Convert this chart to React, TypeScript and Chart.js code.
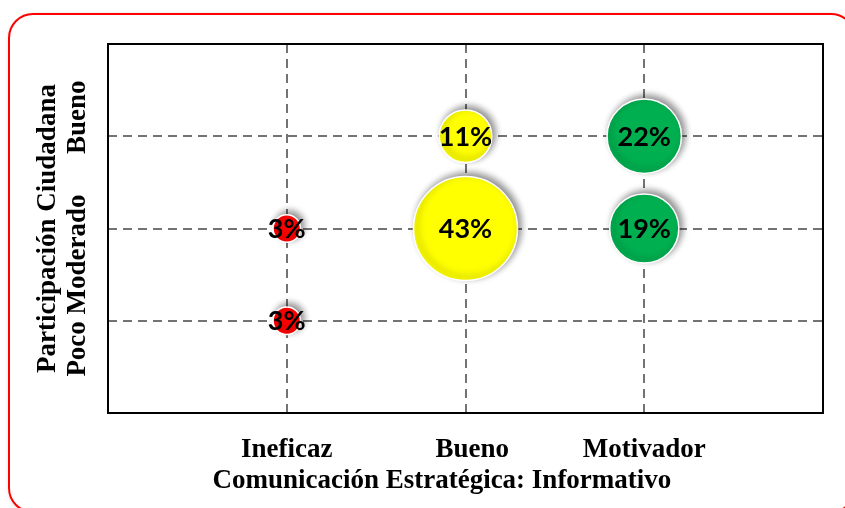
import React, { useEffect, useRef } from "react";
import { Chart, registerables } from "chart.js";

Chart.register(...registerables);

// ---- data ----
const xCategories = ["Ineficaz", "  Bueno", "Motivador"];
const xTitle = "Comunicación Estratégica: Informativo       ";
const yTitleLines = ["Participación Ciudadana", "Poco Moderado      Bueno"];

// y level: 1 = Poco, 2 = Moderado, 3 = Bueno
const ineficazLevels = [2, 1];
const ineficazPct = [3, 3];
const buenoLevels = [3, 2];
const buenoPct = [11, 43];
const motivadorLevels = [3, 2];
const motivadorPct = [22, 19];

const seriesColors = ["#FF0000", "#FFFF00", "#00B050"];

const RADIUS_K = 7.93; // bubble area proportional to percentage

function makePoints(xIndex: number, levels: number[], pcts: number[]) {
  return levels.map((lv, i) => ({ x: xIndex, y: lv, r: RADIUS_K * Math.sqrt(pcts[i]), pct: pcts[i] }));
}

const shadowPlugin = {
  id: "bubbleShadow",
  beforeDatasetDraw(chart: any) {
    const ctx = chart.ctx;
    ctx.save();
    ctx.shadowColor = "rgba(0,0,0,0.45)";
    ctx.shadowBlur = 7;
    ctx.shadowOffsetX = 3;
    ctx.shadowOffsetY = -3;
  },
  afterDatasetDraw(chart: any) {
    chart.ctx.restore();
  },
};

const framePlugin = {
  id: "plotFrame",
  beforeDatasetsDraw(chart: any) {
    const { ctx, chartArea } = chart;
    ctx.save();
    ctx.strokeStyle = "#000000";
    ctx.lineWidth = 2;
    ctx.strokeRect(chartArea.left, chartArea.top, chartArea.right - chartArea.left, chartArea.bottom - chartArea.top);
    ctx.restore();
  },
};

const labelPlugin = {
  id: "pctLabels",
  afterDatasetsDraw(chart: any) {
    const ctx = chart.ctx;
    ctx.save();
    ctx.font = "bold 27px Lato";
    ctx.fillStyle = "#000000";
    ctx.textAlign = "center";
    ctx.textBaseline = "middle";
    chart.data.datasets.forEach((ds: any, di: number) => {
      const meta = chart.getDatasetMeta(di);
      meta.data.forEach((el: any, i: number) => {
        ctx.fillText(ds.data[i].pct + "%", el.x, el.y + 1);
      });
    });
    ctx.restore();
  },
};

const gridColor = (c: any) => {
  const v = c.tick ? c.tick.value : null;
  return v === 0 || v === 4 ? "rgba(0,0,0,0)" : "#737373";
};

export default function App() {
  const canvasRef = useRef<HTMLCanvasElement | null>(null);

  useEffect(() => {
    document.body.style.margin = "0";
    const canvas = canvasRef.current;
    if (!canvas) return;
    const serif = "'Liberation Serif', 'Times New Roman', serif";
    const chart = new Chart(canvas, {
      type: "bubble",
      data: {
        datasets: [
          { label: xCategories[0], data: makePoints(1, ineficazLevels, ineficazPct), backgroundColor: seriesColors[0], borderColor: "#ffffff", borderWidth: 1.5 },
          { label: xCategories[1], data: makePoints(2, buenoLevels, buenoPct), backgroundColor: seriesColors[1], borderColor: "#ffffff", borderWidth: 1.5 },
          { label: xCategories[2], data: makePoints(3, motivadorLevels, motivadorPct), backgroundColor: seriesColors[2], borderColor: "#ffffff", borderWidth: 1.5 },
        ] as any,
      },
      options: {
        animation: false,
        responsive: true,
        maintainAspectRatio: false,
        events: [],
        layout: { autoPadding: false, padding: { top: 44, right: 19, left: 0, bottom: 0 } },
        plugins: { legend: { display: false }, tooltip: { enabled: false } },
        scales: {
          x: {
            type: "linear",
            min: 0,
            max: 4,
            afterFit: (s: any) => { s.height = 95; },
            ticks: {
              stepSize: 1,
              padding: 22,
              color: "#000000",
              font: { family: serif, size: 27, weight: "bold", lineHeight: 1.111 },
              callback: (v: any) => (v >= 1 && v <= 3 ? xCategories[v - 1] : ""),
            },
            grid: { color: gridColor, lineWidth: 2, drawTicks: false },
            border: { display: false, dash: [9, 6] },
            title: {
              display: true,
              text: xTitle,
              color: "#000000",
              font: { family: serif, size: 27, weight: "bold", lineHeight: 1.111 },
              padding: { top: 0, bottom: 12 },
            },
          },
          y: {
            type: "linear",
            min: 0,
            max: 4,
            afterFit: (s: any) => { s.width = 108; },
            ticks: { stepSize: 1, display: false },
            grid: { color: gridColor, lineWidth: 2, drawTicks: false },
            border: { display: false, dash: [9, 6] },
            title: {
              display: true,
              text: yTitleLines,
              color: "#000000",
              font: { family: serif, size: 27, weight: "bold", lineHeight: 1.111 },
              padding: { top: 33, bottom: 0 },
            },
          },
        },
      } as any,
      plugins: [framePlugin, shadowPlugin, labelPlugin],
    });
    return () => chart.destroy();
  }, []);

  return (
    <div style={{ position: "fixed", left: 0, top: 0, width: 845, height: 508, overflow: "hidden", background: "#ffffff" }}>
      <div
        style={{
          position: "absolute",
          left: 8,
          top: 13,
          width: 848,
          height: 500,
          boxSizing: "border-box",
          border: "2px solid #FF0000",
          borderRadius: 25,
          boxShadow: "1px 1px 4px rgba(0,0,0,0.18)",
        }}
      />
      <div style={{ position: "absolute", left: 0, top: 0, width: 845, height: 508 }}>
        <canvas ref={canvasRef} />
      </div>
    </div>
  );
}
